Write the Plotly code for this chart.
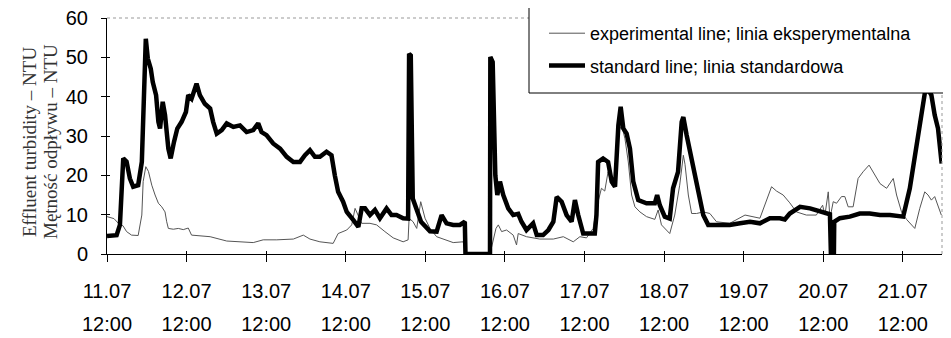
import plotly.graph_objects as go

# time in hours since 11.07 12:00
std_t = [0, 2.9, 3.9, 4.9, 5.9, 6.9, 7.9, 9.4, 10.5, 11.7, 12.3, 13.2, 13.8, 14.8, 15.5, 16.0, 16.8, 17.5,
         18.5, 19.2, 20.2, 21.2, 22.5, 23.8, 24.5, 25.5, 27.0, 28.0, 29.5, 31.1, 32.0, 33.1, 34.6, 36.1,
         38.1, 40.1, 42.1, 44.1, 45.6, 46.6, 48.1, 50.1, 52.2, 54.2, 56.2, 58.2, 59.7, 61.2, 62.7, 64.2,
         66.2, 67.7, 68.7, 69.7, 71.2, 72.3, 74.3, 75.8, 76.8, 77.8, 79.3, 80.8, 82.3, 84.3, 85.8, 87.3,
         89.3, 90.8, 91.1, 91.6, 92.2, 93.4, 94.7, 97.4, 99.4, 100.9, 102.4, 104.4, 106.4, 107.9, 108.1,
         115.5, 115.6, 116.3, 116.7, 117.1, 117.7, 118.5, 119.5, 121.0, 122.5, 124.0, 125.0, 126.5, 128.5,
         129.6, 131.5, 133.1, 134.6, 135.6, 137.1, 138.6, 140.1, 141.1, 142.1, 143.6, 147.1, 147.6, 148.1,
         149.6, 151.1, 152.2, 153.2, 154.2, 154.9, 155.7, 156.7, 157.7, 158.7, 160.2, 162.7, 165.2, 165.9,
         166.7, 168.2, 169.7, 170.7, 172.2, 173.3, 173.8, 174.8, 176.8, 178.3, 179.8, 181.3, 184.8, 187.8,
         190.9, 193.9, 196.9, 199.9, 202.9, 204.4, 205.9, 209.0, 212.0, 215.0, 218.0, 218.3, 219.2, 219.3,
         221.0, 224.0, 227.0, 230.0, 233.1, 236.1, 240.1, 242.1, 244.1, 245.6, 246.6, 247.5, 248.6, 249.6,
         250.6, 251.7]
std_v = [4.6, 4.8, 7.4, 24.3, 23.5, 19.2, 17.1, 17.5, 23.4, 54.7, 49.7, 47.1, 43.7, 40.4, 33.6, 31.9, 38.7, 35.3,
         26.8, 24.3, 28.5, 31.9, 33.6, 36.1, 40.4, 39.5, 43.3, 40.4, 38.2, 37.0, 33.6, 30.6, 31.5, 33.2,
         32.3, 32.7, 31.0, 31.5, 33.2, 31.0, 30.2, 28.1, 26.8, 24.7, 23.4, 23.4, 25.1, 26.4, 24.7, 24.7,
         26.0, 25.1, 20.0, 15.8, 13.3, 10.7, 8.6, 6.9, 11.6, 11.6, 9.9, 11.2, 9.1, 11.6, 9.9, 9.9,
         9.1, 9.0, 50.9, 50.5, 14.1, 11.6, 8.2, 5.8, 5.7, 9.9, 7.8, 7.4, 7.4, 8.2, 0,
         0, 50.1, 48.8, 35.3, 20.0, 15.0, 18.4, 15.0, 11.6, 9.9, 10.2, 8.2, 6.1, 7.8,
         4.8, 4.8, 6.1, 8.2, 14.5, 13.3, 9.9, 8.2, 13.7, 9.9, 5.2, 5.2, 9.9, 23.4,
         24.3, 23.4, 18.4, 17.1, 32.7, 37.4, 31.9, 30.6, 26.8, 18.4, 13.7, 12.9, 12.9, 15.0,
         12.4, 9.5, 9.0, 16.7, 20.9, 33.6, 34.8, 30.2, 21.8, 15.0, 9.9, 7.4, 7.4, 7.4,
         7.8, 8.2, 7.8, 9.1, 9.1, 8.8, 10.3, 12.0, 11.6, 10.7, 10.1, 0, 0, 8.2,
         9.1, 9.5, 10.3, 10.3, 9.9, 9.9, 9.5, 16.7, 26.8, 35.3, 40.8, 42.0, 40.4, 35.3,
         31.9, 23.0]

exp_t = [0, 2.1, 3.9, 4.8, 5.9, 7.4, 9.4, 10.5, 10.9, 11.7, 12.5, 13.5, 14.5, 15.5, 16.5, 17.5, 18.0, 18.5,
         20.0, 21.5, 23.0, 24.5, 25.5, 28.0, 31.1, 36.1, 40.1, 44.1, 47.1, 51.2, 56.2, 59.2, 61.2, 64.2,
         68.2, 69.7, 72.3, 73.8, 74.8, 75.8, 76.8, 79.3, 81.3, 83.8, 86.3, 89.3, 90.8, 91.1, 92.3, 93.4,
         94.6, 95.9, 97.4, 99.4, 102.4, 104.4, 107.4, 108.1, 115.5, 116.3, 117.3, 118.0, 119.0, 120.5,
         122.5, 123.5, 124.0, 126.5, 130.5, 134.6, 137.6, 140.6, 142.6, 144.6, 146.6, 147.6, 149.1, 150.1,
         151.1, 152.2, 153.2, 154.2, 155.2, 156.2, 157.2, 158.2, 159.2, 160.7, 162.7, 165.2, 166.2, 167.2,
         168.7, 169.7, 171.2, 172.7, 173.8, 174.3, 175.3, 176.3, 177.8, 179.8, 181.8, 183.8, 187.8, 192.4,
         196.9, 198.9, 200.4, 201.9, 203.9, 205.9, 207.9, 210.9, 213.9, 215.8, 216.5, 217.5, 218.0, 219.0,
         220.0, 221.5, 222.5, 223.5, 225.0, 226.5, 228.0, 229.8, 231.0, 233.1, 235.1, 236.1, 237.1, 238.1,
         239.6, 241.1, 243.6, 245.1, 246.6, 247.6, 248.6, 249.6, 250.6, 251.6]
exp_v = [9.5, 9.0, 7.4, 7.2, 5.7, 4.8, 4.7, 9.9, 18.4, 22.2, 21.0, 17.5, 15.0, 12.9, 12.0, 10.7, 8.2, 6.5,
         6.3, 6.5, 6.2, 6.6, 4.8, 4.7, 4.4, 3.3, 3.1, 2.9, 3.6, 3.6, 3.8, 4.8, 3.8, 3.1,
         2.7, 5.2, 6.1, 7.4, 11.6, 9.9, 7.8, 7.8, 7.4, 5.7, 4.1, 3.1, 3.6, 9.1, 8.2, 6.5,
         13.3, 9.1, 6.5, 4.4, 3.6, 2.9, 3.1, 0, 0, 3.1, 6.5, 7.4, 5.7, 6.1,
         4.8, 2.3, 5.2, 4.4, 3.8, 3.8, 4.4, 3.1, 4.4, 4.1, 6.5, 11.6, 16.7, 16.0,
         20.9, 17.5, 18.4, 31.0, 32.7, 29.3, 23.4, 15.0, 12.0, 10.7, 9.5, 8.8, 11.2, 7.4,
         6.1, 5.2, 9.9, 17.5, 25.1, 22.8, 15.0, 10.3, 10.3, 10.7, 10.3, 8.2, 7.8, 9.9,
         9.1, 13.7, 17.1, 16.0, 15.0, 13.0, 10.7, 9.9, 9.9, 12.4, 9.9, 15.8, 9.0, 13.3,
         12.9, 14.6, 14.6, 12.0, 12.0, 19.2, 20.9, 22.6, 20.9, 17.9, 16.7, 17.9, 19.2, 15.0,
         10.7, 8.8, 6.5, 11.6, 15.8, 15.0, 13.7, 14.6, 12.4, 9.9]

tick_hours = [0, 24, 48, 72, 96, 120, 144, 168, 192, 216, 240]
tick_dates = ["11.07", "12.07", "13.07", "14.07", "15.07", "16.07", "17.07", "18.07", "19.07", "20.07", "21.07"]
tick_times = ["12:00"] * 11
y_ticks = [0, 10, 20, 30, 40, 50, 60]

fig = go.Figure()
fig.add_trace(go.Scatter(x=exp_t, y=exp_v, mode="lines", name="experimental line; linia eksperymentalna",
                         line=dict(color="#555555", width=1), legendgroup="a"))
fig.add_trace(go.Scatter(x=std_t, y=std_v, mode="lines", name="standard line; linia standardowa",
                         line=dict(color="black", width=4.5), legendgroup="b"))
# helper trace so the overlay axes (second label row, inner tick marks) are drawn
fig.add_trace(go.Scatter(x=tick_hours, y=[None] * len(tick_hours), xaxis="x2", yaxis="y2",
                         showlegend=False, hoverinfo="skip", mode="lines"))

# page offset of 8px (body margin) is compensated in margins
PX0, PW, PY1, PH = 107, 835, 254, 236   # page coords of plot area


def px(x):
    return (x - PX0) / PW


def py(y):
    return (PY1 - y) / PH


XR = [0, 251.8]
YR = [0, 60]
fig.update_layout(
    template="none",
    width=943, height=330,
    margin=dict(l=99, r=9, t=10, b=84, autoexpand=False),
    paper_bgcolor="white", plot_bgcolor="white",
    font=dict(family="Liberation Sans, Arial, sans-serif", color="black"),
    showlegend=True,
    legend=dict(x=px(544), y=py(15), xanchor="left", yanchor="top",
                bgcolor="rgba(0,0,0,0)", borderwidth=0, font=dict(size=18),
                traceorder="grouped", tracegroupgap=6, itemwidth=36),
    xaxis=dict(range=XR, tickvals=tick_hours, ticktext=tick_dates, showgrid=False, zeroline=False,
               showline=True, linecolor="black", linewidth=1, ticks="outside", ticklen=7,
               tickcolor="black", tickfont=dict(size=20), ticklabelstandoff=12, automargin=False),
    xaxis2=dict(range=XR, overlaying="x", side="bottom", anchor="y2", tickvals=tick_hours,
                ticktext=tick_times, showgrid=False, zeroline=False, showline=False, ticks="inside",
                ticklen=3, tickcolor="black",
                tickfont=dict(size=20), ticklabelstandoff=56, automargin=False),
    yaxis=dict(range=YR, tickvals=y_ticks, showgrid=False, zeroline=False, showline=True,
               linecolor="black", linewidth=1, ticks="outside", ticklen=5, tickcolor="black",
               tickfont=dict(size=20), ticklabelstandoff=9, automargin=False,
               ticklabeloverflow="allow"),
    yaxis2=dict(range=YR, overlaying="y", side="left", anchor="x2", tickvals=y_ticks,
                showticklabels=False, showgrid=False, zeroline=False, showline=False,
                ticks="inside", ticklen=3, tickcolor="black", automargin=False),
    shapes=[
        dict(type="line", xref="paper", yref="paper", x0=0, x1=1, y0=1, y1=1,
             line=dict(color="#999999", width=1, dash="dot")),
        dict(type="line", xref="paper", yref="paper", x0=1, x1=1, y0=0, y1=1,
             line=dict(color="#999999", width=1, dash="dot")),
        dict(type="rect", xref="paper", yref="paper", layer="above",
             x0=px(529), x1=px(945), y0=py(93), y1=py(5),
             fillcolor="white", line=dict(color="black", width=1)),
    ],
    annotations=[
        dict(text="Effluent turbidity – NTU", xref="paper", yref="paper", x=px(29),
             y=py(142), xanchor="center", yanchor="middle", textangle=-90, showarrow=False,
             font=dict(family="Liberation Serif, Times New Roman, serif", size=19, color="#333333")),
        dict(text="Mętność odpływu – NTU", xref="paper", yref="paper", x=px(50),
             y=py(142), xanchor="center", yanchor="middle", textangle=-90, showarrow=False,
             font=dict(family="Liberation Serif, Times New Roman, serif", size=19, color="#333333")),
    ],
)

fig.write_html("out.html")
